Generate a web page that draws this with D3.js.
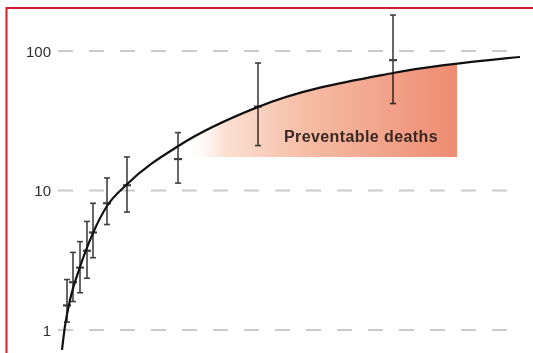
<!DOCTYPE html>
<html>
<head>
<meta charset="utf-8">
<script src="https://cdn.jsdelivr.net/npm/d3@7"></script>
<style>
  html, body { margin: 0; padding: 0; background: #fff; }
  svg { display: block; }
</style>
</head>
<body>
<svg id="chart" width="533" height="353"></svg>
<script>
// Log-scale tick values
const tickValues = [1, 10, 100];

// Fitted curve samples (x in time units, y = deaths)
const fitX = [0.2, 0.5, 1.0, 2.0, 3.3, 4.7, 6.7, 12.0, 19.8, 33.3, 46.0];
const fitY = [0.72, 1.07, 1.64, 2.83, 4.96, 7.74, 11.1, 21.2, 39.7, 69.5, 90.6];

// Observed points with confidence intervals
const obsX    = [0.7, 1.3, 2.0, 2.7, 3.3, 4.7, 6.7, 11.8, 19.8, 33.3];
const obsMid  = [1.5, 2.2, 2.8, 3.7, 5.0, 8.1, 10.9, 16.8, 40, 86];
const obsLow  = [1.14, 1.6, 1.85, 2.35, 3.3, 5.7, 7.0, 11.3, 21, 42];
const obsHigh = [2.3, 3.6, 4.3, 6.0, 8.1, 12.3, 17.4, 26, 82, 181];

// Shaded band under the curve
const bandLabel = "Preventable deaths";
const bandStart = 11.5;
const bandEnd = 39.7;
const bandFloor = 17.4;

const svg = d3.select("#chart");
const W = 533, H = 353;

const x = d3.scaleLinear().domain([0, 46]).range([60, 520]);
const y = d3.scaleLog().domain([1, 100]).range([330, 51]);

// Frame lines (top and left)
svg.append("path")
  .attr("d", `M6.5,${H + 2} L6.5,8 L${W + 2},8`)
  .attr("fill", "none")
  .attr("stroke", "#d3202e")
  .attr("stroke-width", 2);

// Dashed gridlines
svg.append("g")
  .selectAll("line")
  .data(tickValues)
  .join("line")
  .attr("x1", 58)
  .attr("x2", 512)
  .attr("y1", d => y(d))
  .attr("y2", d => y(d))
  .attr("stroke", "#cbcbcb")
  .attr("stroke-width", 2)
  .attr("stroke-dasharray", "15,16");

// Tick labels
const axis = d3.axisLeft(y)
  .tickValues(tickValues)
  .tickFormat(d3.format("d"))
  .tickSize(0)
  .tickPadding(0);
const gAxis = svg.append("g")
  .attr("transform", "translate(51,0)")
  .call(axis);
gAxis.select(".domain").remove();
gAxis.selectAll("text")
  .attr("font-family", "Liberation Sans, Arial, sans-serif")
  .attr("font-size", 15)
  .attr("fill", "#2e2e2e")
  .attr("dy", "0.36em");

// Band gradient
const defs = svg.append("defs");
const grad = defs.append("linearGradient")
  .attr("id", "bandGrad")
  .attr("gradientUnits", "userSpaceOnUse")
  .attr("x1", x(12.3)).attr("x2", x(bandEnd))
  .attr("y1", 0).attr("y2", 0);
grad.append("stop").attr("offset", 0).attr("stop-color", "#ffffff").attr("stop-opacity", 0);
grad.append("stop").attr("offset", 0.15).attr("stop-color", "#fbe0d3");
grad.append("stop").attr("offset", 0.45).attr("stop-color", "#f6bca5");
grad.append("stop").attr("offset", 1).attr("stop-color", "#ee8c72");

defs.append("clipPath").attr("id", "bandClip")
  .append("rect")
  .attr("x", x(bandStart))
  .attr("y", 0)
  .attr("width", x(bandEnd) - x(bandStart))
  .attr("height", y(bandFloor));

const fit = fitX.map((xv, i) => [xv, fitY[i]]);

const area = d3.area()
  .x(d => x(d[0]))
  .y0(y(bandFloor))
  .y1(d => y(d[1]))
  .curve(d3.curveMonotoneX);

svg.append("path")
  .datum(fit)
  .attr("d", area)
  .attr("fill", "url(#bandGrad)")
  .attr("clip-path", "url(#bandClip)");

// Error bars
const bars = svg.append("g")
  .attr("stroke", "#404040")
  .attr("stroke-width", 1.6)
  .attr("fill", "none")
  .style("mix-blend-mode", "multiply");
obsX.forEach((xv, i) => {
  const cx = x(xv);
  bars.append("line")
    .attr("x1", cx).attr("x2", cx)
    .attr("y1", y(obsHigh[i])).attr("y2", y(obsLow[i]));
  [obsHigh[i], obsLow[i]].forEach(v => {
    bars.append("line")
      .attr("x1", cx - 3).attr("x2", cx + 3)
      .attr("y1", y(v)).attr("y2", y(v));
  });
  bars.append("line")
    .attr("x1", cx - 4).attr("x2", cx + 4)
    .attr("y1", y(obsMid[i])).attr("y2", y(obsMid[i]))
    .attr("stroke-width", 2.2);
});

svg.append("text")
  .attr("x", 361)
  .attr("y", 142)
  .attr("text-anchor", "middle")
  .attr("font-family", "Liberation Sans, Arial, sans-serif")
  .attr("font-weight", "bold")
  .attr("font-size", 16)
  .attr("letter-spacing", 0.4)
  .attr("fill", "#3a2822")
  .text(bandLabel);

// Fitted curve
const line = d3.line()
  .x(d => x(d[0]))
  .y(d => y(d[1]))
  .curve(d3.curveMonotoneX);

svg.append("path")
  .datum(fit)
  .attr("d", line)
  .attr("fill", "none")
  .attr("stroke", "#111")
  .attr("stroke-width", 2.2);
</script>
</body>
</html>
